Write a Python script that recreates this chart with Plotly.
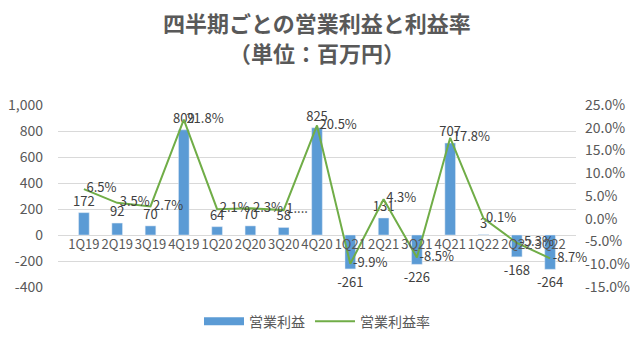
import plotly.graph_objects as go

quarters = ["1Q19", "2Q19", "3Q19", "4Q19", "1Q20", "2Q20", "3Q20", "4Q20",
            "1Q21", "2Q21", "3Q21", "4Q21", "1Q22", "2Q22", "3Q22"]
op_profit = [172, 92, 70, 809, 64, 70, 58, 825, -261, 131, -226, 707, 3, -168, -264]
margin_pct = [6.5, 3.5, 2.7, 21.8, 2.1, 2.3, 1.9, 20.5, -9.9, 4.3, -8.5, 17.8, 0.1, -5.3, -8.7]
margin_labels = [f"\u2009{v:.1f}%" for v in margin_pct]
margin_labels[6] = "\u20091...."

left_ticks = [-400, -200, 0, 200, 400, 600, 800, 1000]
left_ticktext = ["-400", "-200", "0", "200", "400", "600", "800", "1,000"]
right_ticks = [-15, -10, -5, 0, 5, 10, 15, 20, 25]
right_ticktext = ["-15.0%", "-10.0%", "-5.0%", "0.0%", "5.0%", "10.0%", "15.0%", "20.0%", "25.0%"]

FONT = "Noto Sans CJK JP"
TXT = "#404040"
AX = "#595959"
BLUE = "#5B9BD5"
GREEN = "#70AD47"

fig = go.Figure()
fig.add_trace(go.Bar(
    x=quarters, y=op_profit, name="営業利益", showlegend=False,
    marker_color=BLUE,
    text=[str(v) for v in op_profit], textposition="outside",
    constraintext="none",
    textfont=dict(size=13, color=TXT, family=FONT),
    cliponaxis=False,
))
fig.add_trace(go.Scatter(
    x=[None], y=[None], name="営業利益", mode="lines",
    line=dict(color=BLUE, width=8), showlegend=True,
))
fig.add_trace(go.Scatter(
    x=quarters, y=margin_pct, name="営業利益率", yaxis="y2",
    mode="lines+text", line=dict(color=GREEN, width=2),
    text=margin_labels, textposition="middle right",
    textfont=dict(size=13, color=TXT, family=FONT),
    cliponaxis=False,
))

fig.update_layout(
    width=640, height=340,
    margin=dict(l=58, r=64, t=105, b=53, autoexpand=False),
    paper_bgcolor="white", plot_bgcolor="white",
    font=dict(family=FONT, color=AX, size=12),
    bargap=0.68,
    showlegend=True,
    legend=dict(orientation="h", x=0.5, xanchor="center", y=-0.19, yanchor="middle",
                font=dict(size=14, color=AX, family=FONT), itemwidth=40),
    xaxis=dict(anchor="free", position=400/1400, showgrid=False, showline=False,
               ticks="", tickangle=0, tickfont=dict(size=13, color=AX), zeroline=False),
    yaxis=dict(range=[-400, 1000], tickvals=left_ticks, ticktext=left_ticktext,
               showgrid=True, gridcolor="#D9D9D9", zeroline=False, showline=False,
               tickfont=dict(size=14, color=AX), ticks="", ticklabelstandoff=14),
    yaxis2=dict(range=[-15, 25], tickvals=right_ticks, ticktext=right_ticktext,
                overlaying="y", side="right", showgrid=False, zeroline=False,
                showline=False, tickfont=dict(size=14, color=AX), ticks="",
                ticklabelstandoff=8),
    annotations=[
        dict(text="<b>四半期ごとの営業利益と利益率</b>", xref="paper", yref="paper",
             x=0.5, y=1, xanchor="center", yanchor="middle", yshift=83, showarrow=False,
             font=dict(size=22, color=AX, family=FONT)),
        dict(text="<b>（単位：百万円）</b>", xref="paper", yref="paper",
             x=0.5, y=1, xanchor="center", yanchor="middle", yshift=53, showarrow=False,
             font=dict(size=22, color=AX, family=FONT)),
    ],
)

fig.write_html("out.html")
